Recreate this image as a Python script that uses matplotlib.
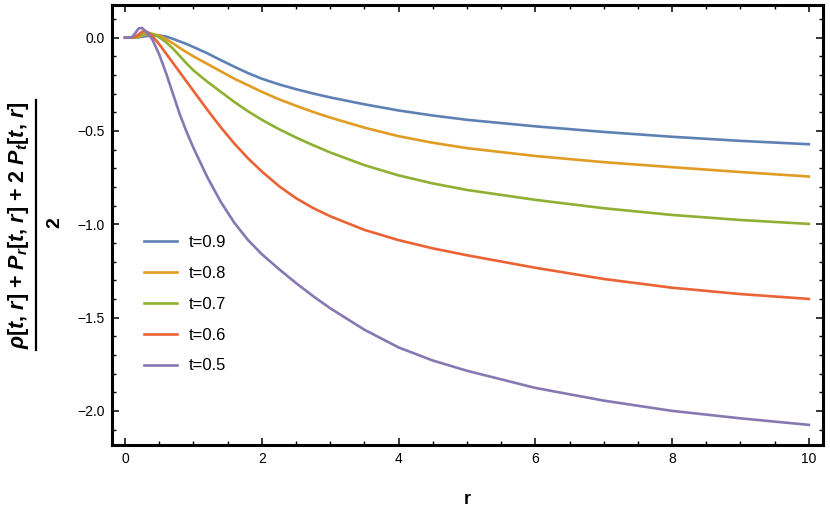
import numpy as np
import matplotlib
matplotlib.use("Agg")
import matplotlib.pyplot as plt
from matplotlib.lines import Line2D
from matplotlib.ticker import MultipleLocator

plt.rcParams['font.family'] = ['Liberation Sans', 'DejaVu Sans']
plt.rcParams['mathtext.fontset'] = 'custom'
plt.rcParams['mathtext.rm'] = 'Liberation Sans:bold'
plt.rcParams['mathtext.it'] = 'Liberation Sans:bold:italic'
plt.rcParams['mathtext.bf'] = 'Liberation Sans:bold'

# values
r = [0, 0.1, 0.15, 0.2, 0.25, 0.3, 0.35, 0.4, 0.5, 0.6, 0.7, 0.8, 0.9, 1.0,
     1.2, 1.4, 1.6, 1.8, 2.0, 2.25, 2.5, 2.75, 3.0, 3.5, 4.0, 4.5, 5, 6, 7, 8, 9, 10]

t09 = [0, 0, 0, 0.002, 0.005, 0.008, 0.010, 0.012, 0.012, 0.006, -0.006, -0.020,
       -0.034, -0.050, -0.083, -0.120, -0.156, -0.190, -0.220, -0.250, -0.276,
       -0.299, -0.320, -0.357, -0.390, -0.417, -0.440, -0.475, -0.505, -0.531,
       -0.553, -0.571]
t08 = [0, 0, 0.001, 0.005, 0.011, 0.017, 0.020, 0.019, 0.012, -0.008, -0.030, -0.055,
       -0.078, -0.100, -0.140, -0.180, -0.220, -0.255, -0.290, -0.330, -0.365,
       -0.398, -0.428, -0.482, -0.528, -0.563, -0.592, -0.634, -0.667, -0.694,
       -0.720, -0.744]
t07 = [0, 0, 0.002, 0.010, 0.018, 0.023, 0.025, 0.020, 0.002, -0.024, -0.058, -0.098,
       -0.138, -0.175, -0.235, -0.290, -0.345, -0.395, -0.440, -0.490, -0.535,
       -0.576, -0.615, -0.683, -0.738, -0.781, -0.816, -0.869, -0.914, -0.950,
       -0.977, -0.998]
t06 = [0, 0, 0.005, 0.018, 0.032, 0.035, 0.025, 0.008, -0.035, -0.085, -0.135, -0.185,
       -0.235, -0.285, -0.385, -0.480, -0.568, -0.647, -0.717, -0.795, -0.860,
       -0.913, -0.957, -1.030, -1.085, -1.129, -1.166, -1.233, -1.293, -1.340,
       -1.374, -1.400]
t05 = [0, 0.002, 0.025, 0.050, 0.052, 0.035, 0.015, -0.010, -0.090, -0.190, -0.300, -0.410,
       -0.505, -0.590, -0.745, -0.880, -0.993, -1.085, -1.160, -1.240, -1.315,
       -1.385, -1.450, -1.565, -1.660, -1.730, -1.785, -1.877, -1.945, -2.000,
       -2.040, -2.075]

labels = ['t=0.9', 't=0.8', 't=0.7', 't=0.6', 't=0.5']
colors = ['#5E81B5', '#E19C24', '#8FB032', '#EB6235', '#8778B3']

W, H = 830, 509
fig = plt.figure(figsize=(W / 100, H / 100), dpi=100)
ax = fig.add_axes([0.135, 0.1257, 0.856, 0.8644])

for ys, lab, c in zip([t09, t08, t07, t06, t05], labels, colors):
    ax.plot(r, ys, color=c, lw=1.9, label=lab, solid_joinstyle='round')

ax.set_xlim(-0.19, 10.2)
ax.set_ylim(-2.183, 0.175)

ax.xaxis.set_major_locator(MultipleLocator(2))
ax.xaxis.set_minor_locator(MultipleLocator(0.5))
ax.yaxis.set_major_locator(MultipleLocator(0.5))
ax.yaxis.set_minor_locator(MultipleLocator(0.1))

for s in ax.spines.values():
    s.set_linewidth(2.2)
    s.set_color('black')

ax.tick_params(which='both', direction='in', top=True, right=True,
               labelsize=10, colors='black', pad=5)
ax.tick_params(which='major', length=5, width=1.1)
ax.tick_params(which='minor', length=3, width=1.0)
fig.canvas.draw()
for tk in (ax.xaxis.get_major_ticks() + ax.xaxis.get_minor_ticks()
           + ax.yaxis.get_major_ticks() + ax.yaxis.get_minor_ticks()):
    tk.tick2line.set_color('#aaaaaa')

ax.set_xlabel('r', fontsize=13, fontweight='bold', labelpad=18)

# y label drawn as a fraction by hand
num = r'$\rho$[$t$, $r$] + $P_r$[$t$, $r$] + 2 $P_t$[$t$, $r$]'
fig.text(19 / W, 1 - 225 / H, num, rotation=90, ha='center', va='center',
         fontsize=15.5, fontweight='bold')
fig.add_artist(Line2D([36 / W, 36 / W], [1 - 100 / H, 1 - 350 / H],
                      color='black', lw=1.6, transform=fig.transFigure))
fig.text(55 / W, 1 - 223 / H, '2', rotation=90, ha='center', va='center',
         fontsize=14, fontweight='bold')

ax.legend(loc='center left', bbox_to_anchor=(0.035, 0.32), frameon=False,
          fontsize=12, handlelength=2.0, handletextpad=0.7, labelspacing=0.95,
          borderaxespad=0)

fig.savefig('out.png', dpi=100)
